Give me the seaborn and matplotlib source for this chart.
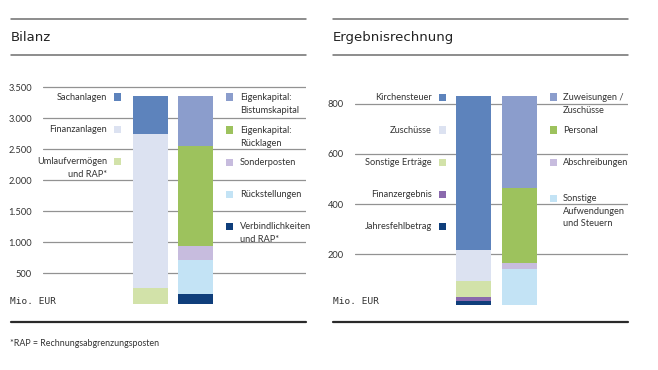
import matplotlib
matplotlib.use("Agg")
import matplotlib.pyplot as plt
import seaborn as sns
import pandas as pd
import numpy as np
from matplotlib.patches import Rectangle
from matplotlib.lines import Line2D

sns.set_theme(style="white")
plt.rcParams['font.family'] = ['Lato', 'DejaVu Sans']

# ---------------- data ----------------
bilanz_bars = ["Aktiva", "Passiva"]
aktiva_labels = ["Umlaufvermögen\nund RAP*", "Finanzanlagen", "Sachanlagen"]
aktiva_values = [265, 2480, 610]
passiva_labels = ["Verbindlichkeiten\nund RAP*", "Rückstellungen", "Sonderposten",
                  "Eigenkapital:\nRücklagen", "Eigenkapital:\nBistumskapital"]
passiva_values = [160, 560, 220, 1610, 805]
bilanz_ticks = [500, 1000, 1500, 2000, 2500, 3000, 3500]
bilanz_ticklabels = ["500", "1.000", "1.500", "2.000", "2.500", "3.000", "3.500"]

ergebnis_bars = ["Erträge", "Aufwendungen"]
ertrag_labels = ["Jahresfehlbetrag", "Finanzergebnis", "Sonstige Erträge", "Zuschüsse", "Kirchensteuer"]
ertrag_values = [14, 14, 66, 122, 614]
aufwand_labels = ["Sonstige\nAufwendungen\nund Steuern", "Abschreibungen", "Personal", "Zuweisungen /\nZuschüsse"]
aufwand_values = [140, 24, 301, 365]
ergebnis_ticks = [200, 400, 600, 800]
ergebnis_ticklabels = ["200", "400", "600", "800"]

# colours
c_blue = "#5d83bc"
c_lavblue = "#8b9dcc"
c_pale = "#dce2f1"
c_lgreen = "#d2e2a9"
c_green = "#9dc25d"
c_lpurple = "#c7bcde"
c_lblue = "#c3e3f5"
c_navy = "#0f3e7b"
c_purple = "#8a69ad"

aktiva_colors = [c_lgreen, c_pale, c_blue]
passiva_colors = [c_navy, c_lblue, c_lpurple, c_green, c_lavblue]
ertrag_colors = [c_navy, c_purple, c_lgreen, c_pale, c_blue]
aufwand_colors = [c_lblue, c_lpurple, c_green, c_lavblue]

W, H = 658, 370
fig = plt.figure(figsize=(W / 100, H / 100), dpi=100)
fig.patch.set_facecolor("white")


def fx(x):
    return x / W


def fy(y):
    return 1 - y / H


def stacked(ax, cats, series, colors_list, width):
    rows = []
    for cat, vals, cols in zip(cats, series, colors_list):
        cum = np.cumsum(vals)
        for i in range(len(vals) - 1, -1, -1):
            rows.append(dict(cat=cat, top=cum[i], color=cols[i], order=len(vals) - 1 - i))
    df = pd.DataFrame(rows)
    for order in sorted(df["order"].unique()):
        sub = df[df["order"] == order]
        for _, r in sub.iterrows():
            d = pd.DataFrame({"cat": cats, "top": [r["top"] if c == r["cat"] else np.nan for c in cats]})
            sns.barplot(data=d, x="cat", y="top", order=cats, color=r["color"],
                        width=width, ax=ax, saturation=1, linewidth=0, zorder=3)


def setup_axes(ax, ticks, ticklabels, ymax, xlim):
    ax.set_ylim(0, ymax)
    ax.set_xlim(*xlim)
    ax.set_yticks(ticks)
    ax.set_yticklabels(ticklabels, fontsize=6.7, color="#333333")
    ax.tick_params(axis="y", length=0, pad=8)
    ax.set_xticks([])
    ax.set_xlabel("")
    ax.set_ylabel("")
    for s in ax.spines.values():
        s.set_visible(False)
    ax.set_facecolor("none")
    for t in ticks:
        ax.axhline(t, color="#929292", lw=0.9, zorder=1)


# ---- left axes (Bilanz) ----
px_per_unit_l = 0.062
ymax_l = 3600
y0_l = 304.3
axL = fig.add_axes([fx(43), fy(y0_l), fx(306) - fx(43), ymax_l * px_per_unit_l / H])
stacked(axL, bilanz_bars, [aktiva_values, passiva_values], [aktiva_colors, passiva_colors], 0.78)
setup_axes(axL, bilanz_ticks, bilanz_ticklabels, ymax_l, (-2.39, 3.45))

# ---- right axes (Ergebnisrechnung) ----
px_per_unit_r = 0.251
ymax_r = 880
y0_r = 304.5
axR = fig.add_axes([fx(355), fy(y0_r), fx(628) - fx(355), ymax_r * px_per_unit_r / H])
stacked(axR, ergebnis_bars, [ertrag_values, aufwand_values], [ertrag_colors, aufwand_colors], 0.76)
setup_axes(axR, ergebnis_ticks, ergebnis_ticklabels, ymax_r, (-2.58, 3.35))

# ---- frame lines & titles ----
for (x0, x1) in [(11, 306), (333, 628)]:
    fig.add_artist(Line2D([fx(x0), fx(x1)], [fy(19.3), fy(19.3)], color="#6e6e6e", lw=1.1))
    fig.add_artist(Line2D([fx(x0), fx(x1)], [fy(55), fy(55)], color="#6e6e6e", lw=1.1))
    fig.add_artist(Line2D([fx(x0), fx(x1)], [fy(322.3), fy(322.3)], color="#2a2a2a", lw=1.6))

fig.text(fx(11), fy(37.5), "Bilanz", fontsize=9.5, family=["DejaVu Sans"], color="#222222",
         va="center", ha="left")
fig.text(fx(333), fy(37.5), "Ergebnisrechnung", fontsize=9.5, family=["DejaVu Sans"], color="#222222",
         va="center", ha="left")

fig.text(fx(10), fy(302), "Mio. EUR", fontsize=6.8, family=["DejaVu Sans Mono"], color="#333333",
         va="center", ha="left")
fig.text(fx(333), fy(302), "Mio. EUR", fontsize=6.8, family=["DejaVu Sans Mono"], color="#333333",
         va="center", ha="left")

fig.text(fx(10), fy(343), "*RAP = Rechnungsabgrenzungsposten", fontsize=6.4, color="#333333",
         va="center", ha="left")

# ---- legend entries ----
LFS = 6.7
SQ = 7
LS = 1.55


def legend_left(labels, colors, ys, text_right, sq_x):
    for lab, col, y in zip(labels, colors, ys):
        fig.add_artist(Rectangle((fx(sq_x), fy(y + SQ / 2)), SQ / W, SQ / H, transform=fig.transFigure,
                                 facecolor=col, edgecolor="none"))
        fig.text(fx(text_right), fy(y - 4.2), lab, fontsize=LFS, color="#333333", ha="right", va="top",
                 linespacing=LS, multialignment="right", transform=fig.transFigure)


def legend_right(labels, colors, ys, sq_x, text_left):
    for lab, col, y in zip(labels, colors, ys):
        fig.add_artist(Rectangle((fx(sq_x), fy(y + SQ / 2)), SQ / W, SQ / H, transform=fig.transFigure,
                                 facecolor=col, edgecolor="none"))
        fig.text(fx(text_left), fy(y - 4.2), lab, fontsize=LFS, color="#333333", ha="left", va="top",
                 linespacing=LS, transform=fig.transFigure)


# Bilanz
legend_left(aktiva_labels[::-1], aktiva_colors[::-1], [97, 129.5, 161.5], 107, 114)
legend_right(passiva_labels[::-1], passiva_colors[::-1], [97, 130, 162, 194, 226], 226, 240)

# Ergebnisrechnung
legend_left(ertrag_labels[::-1], ertrag_colors[::-1], [97.5, 130, 162, 194, 226], 432, 439)
legend_right(aufwand_labels[::-1], aufwand_colors[::-1], [97, 130, 162, 198], 550, 563)

fig.savefig("out.png", dpi=100, facecolor="white")
